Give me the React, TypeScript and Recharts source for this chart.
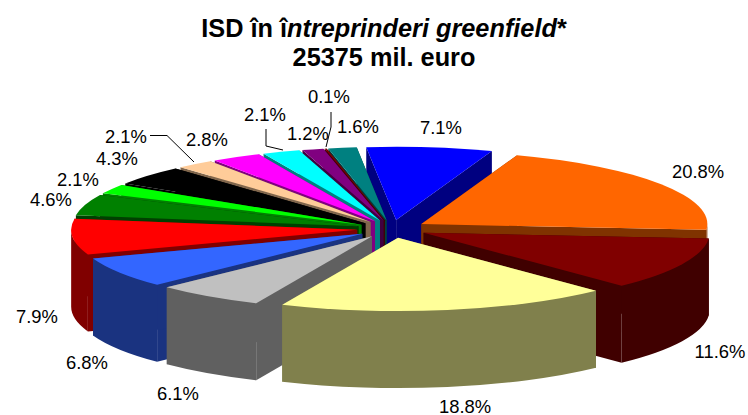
import { Pie, PieChart } from "recharts";

const labels = ["7.1%", "20.8%", "11.6%", "18.8%", "6.1%", "6.8%", "7.9%", "4.6%", "2.1%", "4.3%", "2.1%", "2.8%", "2.1%", "1.2%", "0.1%", "1.6%"];
const values = [7.1, 20.8, 11.6, 18.8, 6.1, 6.8, 7.9, 4.6, 2.1, 4.3, 2.1, 2.8, 2.1, 1.2, 0.1, 1.6];
const topColors = ["#0000ff", "#ff6600", "#800000", "#ffff99", "#c0c0c0", "#3366ff", "#ff0000", "#008000", "#00ff00", "#000000", "#ffcc99", "#ff00ff", "#00ffff", "#800080", "#800000", "#008080"];
const wallColors = ["#000080", "#803300", "#400000", "#80804c", "#606060", "#1a3380", "#800000", "#004000", "#008000", "#000000", "#80664c", "#800080", "#008080", "#400040", "#400000", "#004040"];
// label centres, placed by hand like the original
const labelX = [441, 698, 720, 465, 178, 87, 37, 51, 78, 117, 126, 207, 265, 308, 329, 358];
const labelY = [127, 171, 351, 406, 393, 362, 316, 199, 179, 158, 136, 139, 114, 133, 96, 126];
const leaders = [
  "150,135.5 167,135.5 194,162",
  "266,129 266,146 283,150",
  "331,112 331,127 326,147",
];

const WIDTH = 748;
const HEIGHT = 415;
const CX = 392;
const CY = 229;
const RADIUS = 286;
const TILT = 0.256;
const EXPLODE = 35;
const DEPTH = 77;
const START = 96;

const tableData = values.map((value, id) => ({ id, value }));

const total = values.reduce((a, b) => a + b, 0);
const midAngle = (i: number) => {
  const before = values.slice(0, i).reduce((a, b) => a + b, 0);
  return START - ((before + values[i] / 2) / total) * 360;
};
// back slices first, so the front ones paint over their walls
const drawOrder = values
  .map((_, i) => i)
  .sort((a, b) => Math.sin((midAngle(b) * Math.PI) / 180) - Math.sin((midAngle(a) * Math.PI) / 180));

function Slice3D(props: any) {
  const { cx, cy, outerRadius, startAngle, endAngle, id } = props;
  const rad = (d: number) => (d * Math.PI) / 180;
  const mid = rad((startAngle + endAngle) / 2);
  const ax = cx + Math.cos(mid) * EXPLODE;
  const ay = cy - Math.sin(mid) * EXPLODE * TILT;
  const rx = outerRadius;
  const ry = outerRadius * TILT;
  const pt = (deg: number, drop = 0) => [ax + Math.cos(rad(deg)) * rx, ay - Math.sin(rad(deg)) * ry + drop];
  const [sx, sy] = pt(startAngle);
  const [ex, ey] = pt(endAngle);
  const large = Math.abs(startAngle - endAngle) > 180 ? 1 : 0;
  const wall = wallColors[id];

  // outer wall only exists on the part of the rim that faces us (lower half)
  const outerWalls: string[] = [];
  const norm = (d: number) => ((d % 360) + 360) % 360;
  let a = norm(startAngle);
  let b = a - (startAngle - endAngle);
  for (const shift of [0, -360]) {
    const from = Math.min(a, 360 + shift);
    const to = Math.max(b, 180 + shift);
    if (from > to) {
      const [x1, y1] = pt(from);
      const [x2, y2] = pt(to);
      outerWalls.push(
        `M${x1},${y1} A${rx},${ry} 0 0 1 ${x2},${y2} L${x2},${y2 + DEPTH} A${rx},${ry} 0 0 0 ${x1},${y1 + DEPTH} Z`,
      );
    }
  }

  return (
    <g>
      <path d={`M${ax},${ay} L${sx},${sy} L${sx},${sy + DEPTH} L${ax},${ay + DEPTH} Z`} fill={wall} />
      <path d={`M${ax},${ay} L${ex},${ey} L${ex},${ey + DEPTH} L${ax},${ay + DEPTH} Z`} fill={wall} />
      {outerWalls.map((d, i) => (
        <path key={i} d={d} fill={wall} />
      ))}
      <path d={`M${ax},${ay} L${sx},${sy} A${rx},${ry} 0 ${large} 1 ${ex},${ey} Z`} fill={topColors[id]} />
    </g>
  );
}

export default function App() {
  const font = "'Liberation Sans', Arial, sans-serif";
  return (
    <div style={{ position: "absolute", left: 0, top: 0, width: WIDTH, height: HEIGHT, background: "#fff" }}>
      <PieChart width={WIDTH} height={HEIGHT} margin={{ top: 0, right: 0, bottom: 0, left: 0 }}>
        <text x={384} y={37} textAnchor="middle" fontFamily={font} fontSize={25.3} fontWeight="bold" fill="#000">
          ISD în î<tspan fontStyle="italic">ntreprinderi greenfield</tspan>*
        </text>
        <text x={384} y={66} textAnchor="middle" fontFamily={font} fontSize={25.3} fontWeight="bold" fill="#000">
          25375 mil. euro
        </text>
        {drawOrder.map((i) => {
          const renderSlice = (p: any) => (p.id === i ? <Slice3D {...p} /> : <g />);
          return (
            <Pie
              key={i}
              data={tableData}
              dataKey="value"
              cx={CX}
              cy={CY}
              outerRadius={RADIUS}
              startAngle={START}
              endAngle={START - 360}
              stroke="none"
              isAnimationActive={false}
              shape={renderSlice}
              activeShape={renderSlice}
              inactiveShape={renderSlice}
              legendType="none"
            />
          );
        })}
        {leaders.map((points) => (
          <polyline key={points} points={points} fill="none" stroke="#000" strokeWidth={1} />
        ))}
        {labels.map((label, i) => (
          <text key={i} x={labelX[i]} y={labelY[i]} textAnchor="middle" dominantBaseline="central" fontFamily={font} fontSize={18.4} fill="#000">
            {label}
          </text>
        ))}
      </PieChart>
    </div>
  );
}
